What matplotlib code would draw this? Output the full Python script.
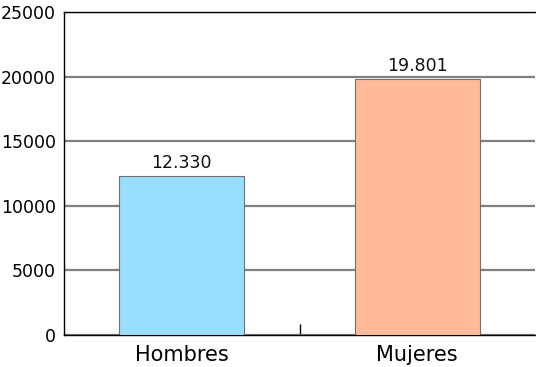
import matplotlib
matplotlib.use("Agg")
import matplotlib.pyplot as plt

categories = ["Hombres", "Mujeres"]
values = [12330, 19801]
value_labels = ["12.330", "19.801"]
yticks = [0, 5000, 10000, 15000, 20000, 25000]
colors = ["#99DDFF", "#FFBB99"]

fig = plt.figure(figsize=(5.36, 3.67), dpi=100)
ax = fig.add_axes([64/536, (367-335)/367, (535-64)/536, (335-12)/367])

x = list(range(len(categories)))
bars = ax.bar(x, values, width=0.53, color=colors, edgecolor="#707070", linewidth=0.8, zorder=3)
for xi, v, lab in zip(x, values, value_labels):
    ax.annotate(lab, (xi, v), xytext=(0, 3), textcoords="offset points",
                ha="center", va="bottom", fontsize=12.5, color="#111111")

ax.set_xlim(-0.5, 1.5)
ax.set_ylim(0, 25000)
ax.set_yticks(yticks)
ax.set_yticklabels([str(t) for t in yticks], fontsize=12.5)
ax.set_xticks(x)
ax.set_xticklabels(categories, fontsize=15)
ax.set_xticks([0.5], minor=True)
ax.tick_params(axis="x", which="major", length=0, pad=7)
ax.tick_params(axis="x", which="minor", direction="in", length=8, width=1, color="black")
ax.tick_params(axis="y", length=0, pad=6)
ax.yaxis.grid(True, color="#808080", linewidth=1.6, zorder=0)
ax.set_axisbelow(True)
for s in ["left", "bottom", "top"]:
    ax.spines[s].set_color("black")
    ax.spines[s].set_linewidth(1.0)
ax.spines["right"].set_visible(False)

fig.savefig("out.png", dpi=100)
